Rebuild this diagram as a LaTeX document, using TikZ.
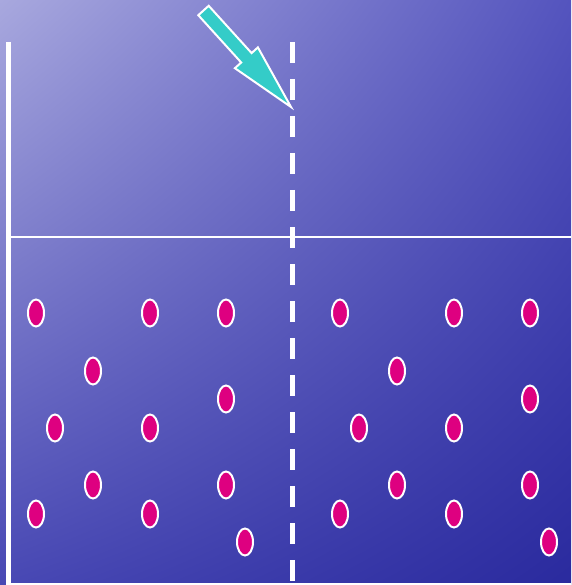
\documentclass[tikz,border=0pt]{standalone}
\usepackage{tikz}
\usetikzlibrary{shapes.geometric,shadings,positioning}
\usepackage{xcolor}
\definecolor{aguaclara}{RGB}{168,168,222}
\definecolor{aguamedia}{RGB}{84,84,190}
\definecolor{aguafonda}{RGB}{72,72,180}
\definecolor{aguaoscura}{RGB}{42,42,158}
\definecolor{puntomag}{RGB}{222,0,128}
\definecolor{flechacian}{RGB}{52,204,200}
\begin{document}
\begin{tikzpicture}[x=1pt, y=-1pt,
  punto/.style={ellipse, draw=white, line width=2pt, fill=puntomag,
                minimum width=16pt, minimum height=27pt, inner sep=0pt},
  eje/.style={white, line width=2.5pt}]
\useasboundingbox (0,0) rectangle (571,585);
\shade[upper left=aguaclara, upper right=aguamedia, lower left=aguafonda,
       lower right=aguaoscura] (0,0) rectangle (571,585);
% ejes
\coordinate (arriba) at (8,42);
\coordinate (abajo) at (8,585);
\coordinate (izq) at (8,237);
\coordinate (der) at (571,237);
\draw[white, line width=5pt] (arriba) -- (abajo);
\draw[eje] (izq) -- (der);
\draw[white, line width=2pt] (8,584) -- (571,584);
% frontera discontinua
\coordinate (fronArriba) at (292.5,42);
\coordinate (fronAbajo) at (292.5,585);
\draw[white, line width=5pt, dash pattern=on 21pt off 16pt] (fronArriba) -- (fronAbajo);
% puntos a ambos lados
\foreach \x/\y [count=\i] in {36/313, 150/313, 226/313, 93/371, 226/399, 55/428,
    150/428, 93/485, 226/485, 36/514, 150/514, 245/542} {
  \node[punto] (izq\i) at (\x,\y) {};
  \node[punto] (der\i) at (\x+304,\y) {};
}
% flecha
\coordinate (punta) at (291,107);
\filldraw[fill=flechacian, draw=white, line width=2pt, line join=miter]
  (208.7,5.8) -- (198.3,15.2) -- (241.2,62.5) -- (234.9,68.2) -- (punta)
  -- (257.9,47.4) -- (251.6,53.1) -- cycle;
\end{tikzpicture}
\end{document}
